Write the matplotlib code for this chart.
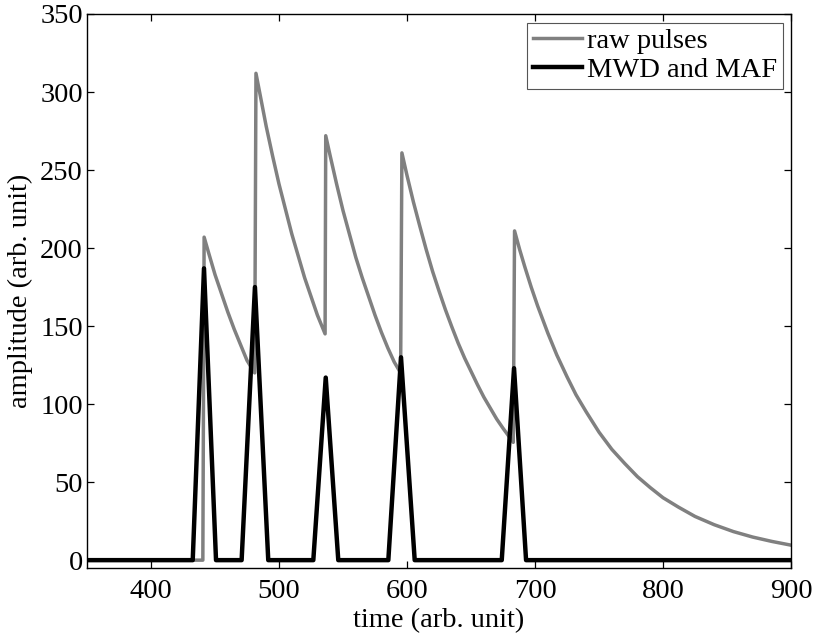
import matplotlib
matplotlib.use("Agg")
import matplotlib.pyplot as plt

# raw pulses (exponential tails)
raw_t = [350, 440.5, 441.5, 445, 450, 455, 460, 465, 470, 475, 481,
         482, 486, 490, 495, 500, 505, 510, 515, 520, 525, 530, 536,
         536.5, 540, 545, 550, 555, 560, 565, 570, 575, 580, 585, 590, 595,
         596, 600, 605, 610, 615, 620, 625, 630, 635, 640, 645, 650, 655,
         660, 665, 670, 675, 683,
         684, 688, 692, 697, 702, 710, 717, 725, 732, 740, 750, 760, 770,
         780, 790, 800, 812, 825, 840, 855, 870, 885, 900]
raw_a = [0, 0, 207, 197, 183, 171, 159, 148, 138, 128, 120,
         312, 295, 278, 259, 241, 225, 209, 195, 181, 169, 157, 145,
         272, 259, 241, 224, 209, 194, 181, 169, 157, 146, 136, 127, 120,
         261, 246.5, 229.5, 214, 199, 185, 172.5, 160.5, 149.5, 139, 129.5, 121, 112.5,
         104.5, 97.5, 90.5, 84.5, 75.5,
         211, 199, 188, 175, 163, 145.5, 131.5, 117.5, 106, 95, 82, 71, 62,
         53.5, 46.5, 40, 34, 28, 22.7, 18.3, 14.8, 12, 9.6]

# moving window deconvolution + moving average filter output
mwd_t = [350, 432.6, 441.4, 450.8, 470.8, 481.2, 491.6, 526.8, 536.5, 546.3,
         585.4, 595.3, 606, 674, 683.6, 693, 900]
mwd_a = [0, 0, 187, 0, 0, 175, 0, 0, 117, 0,
         0, 130, 0, 0, 123, 0, 0]

FS = 20.5
plt.rcParams["font.family"] = ["Liberation Serif", "DejaVu Serif"]
plt.rcParams["font.size"] = FS

fig = plt.figure(figsize=(8.13, 6.36), dpi=100)
ax = fig.add_axes([0.107, 0.107, 0.866, 0.871])

ax.plot(raw_t, raw_a, color="#808080", lw=2.5, label="raw pulses")
ax.plot(mwd_t, mwd_a, color="black", lw=3.2, label="MWD and MAF")

ax.set_xlim(350, 900)
ax.set_ylim(-5, 350)
ax.set_xticks([400, 500, 600, 700, 800, 900])
ax.set_yticks([0, 50, 100, 150, 200, 250, 300, 350])
ax.tick_params(direction="in", length=5, width=0.9, top=True, right=True,
               labelsize=FS)
ax.tick_params(axis="x", pad=8)
ax.tick_params(axis="y", pad=3)
for s in ax.spines.values():
    s.set_linewidth(1.0)

ax.set_xlabel("time (arb. unit)", fontsize=FS, labelpad=3)
ax.set_ylabel("amplitude (arb. unit)", fontsize=FS, labelpad=5)

leg = ax.legend(loc="upper right", fontsize=FS, fancybox=False, framealpha=1,
                edgecolor="#555555", handlelength=1.75, handletextpad=0.15,
                borderaxespad=0.3, borderpad=0.2, labelspacing=0.1)
leg.get_frame().set_linewidth(0.8)

fig.savefig("out.png", dpi=100)
